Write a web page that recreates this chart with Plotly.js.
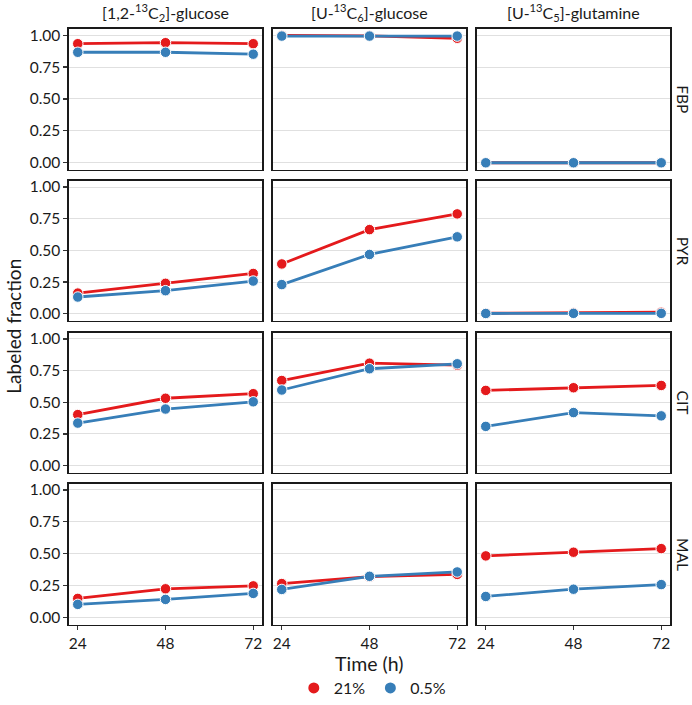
<!DOCTYPE html>
<html>
<head>
<meta charset="utf-8">
<script src="https://cdn.plot.ly/plotly-3.0.1.min.js"></script>
<style>html,body{margin:0;padding:0;background:#fff;}#chart{width:692px;height:705px;}</style>
</head>
<body>
<div id="chart"></div>
<script>
const times = [24, 48, 72];
const tracers = ['[1,2-<sup>13</sup>C<sub>2</sub>]-glucose', '[U-<sup>13</sup>C<sub>6</sub>]-glucose', '[U-<sup>13</sup>C<sub>5</sub>]-glutamine'];
const metabolites = ['FBP', 'PYR', 'CIT', 'MAL'];
const conditions = ['21%', '0.5%'];
const colors = ['#E41A1C', '#377EB8'];

// values per metabolite: [tracer][time]
const FBP_21 = [[0.933, 0.941, 0.933], [0.998, 0.995, 0.976], [0.0, 0.0, 0.0]];
const FBP_05 = [[0.866, 0.866, 0.851], [0.993, 0.993, 0.993], [0.0, 0.0, 0.0]];
const PYR_21 = [[0.163, 0.240, 0.318], [0.393, 0.664, 0.788], [0.004, 0.008, 0.012]];
const PYR_05 = [[0.132, 0.182, 0.258], [0.230, 0.468, 0.607], [0.002, 0.003, 0.003]];
const CIT_21 = [[0.403, 0.532, 0.568], [0.672, 0.809, 0.793], [0.594, 0.615, 0.633]];
const CIT_05 = [[0.336, 0.447, 0.504], [0.597, 0.765, 0.804], [0.310, 0.419, 0.393]];
const MAL_21 = [[0.150, 0.225, 0.248], [0.266, 0.320, 0.338], [0.483, 0.512, 0.540]];
const MAL_05 = [[0.103, 0.142, 0.189], [0.220, 0.323, 0.357], [0.165, 0.222, 0.258]];

const series = [[FBP_21, FBP_05], [PYR_21, PYR_05], [CIT_21, CIT_05], [MAL_21, MAL_05]];

const W = 692, H = 705;
const colPx = [[69, 262], [273, 466], [477, 670]];
const rowPx = [[29, 171], [182, 323], [335, 476], [487, 629]];
const FONT = 'Lato, "Open Sans", sans-serif';
const TXT = '#1a1a1a';

const traces = [];
const layout = {
  width: W, height: H,
  margin: {l: 0, r: 0, t: 0, b: 0},
  paper_bgcolor: '#fff', plot_bgcolor: '#fff',
  font: {family: FONT, size: 15, color: TXT},
  showlegend: true,
  legend: {orientation: 'h', x: 0.538, xanchor: 'center', y: (H - 693) / H, yanchor: 'middle',
           font: {family: FONT, size: 16, color: TXT}, itemwidth: 30},
  annotations: []
};

for (let r = 0; r < 4; r++) {
  for (let c = 0; c < 3; c++) {
    const k = r * 3 + c + 1;
    const xa = 'x' + k, ya = 'y' + k;
    for (let s = 0; s < 2; s++) {
      traces.push({
        x: times, y: series[r][s][c], xaxis: xa, yaxis: ya,
        mode: 'lines+markers', name: conditions[s], showlegend: false,
        line: {color: colors[s], width: 2.8},
        marker: {color: colors[s], size: 10.5, line: {color: '#fff', width: 1}},
        hoverinfo: 'skip'
      });
    }
    const xkey = 'xaxis' + (k === 1 ? '' : k);
    const ykey = 'yaxis' + (k === 1 ? '' : k);
    layout[xkey] = {
      domain: [colPx[c][0] / W, colPx[c][1] / W], anchor: ya,
      range: [21.6, 74.4], tickvals: times, ticktext: times.map(String),
      showticklabels: r === 3, ticks: r === 3 ? 'outside' : '', ticklen: 4, tickwidth: 1.2, tickcolor: '#333',
      showgrid: false, zeroline: false,
      showline: true, mirror: true, linecolor: TXT, linewidth: 1.6,
      tickfont: {family: FONT, size: 15.5, color: TXT}
    };
    layout[ykey] = {
      domain: [1 - rowPx[r][1] / H, 1 - rowPx[r][0] / H], anchor: xa,
      range: [-0.055, 1.05], tickvals: [0, 0.25, 0.5, 0.75, 1], ticktext: ['0.00', '0.25', '0.50', '0.75', '1.00'],
      showticklabels: c === 0, ticks: c === 0 ? 'outside' : '', ticklen: 4, tickwidth: 1.2, tickcolor: '#333',
      showgrid: true, gridcolor: '#e0e0e0', gridwidth: 1, zeroline: false,
      showline: true, mirror: true, linecolor: TXT, linewidth: 1.6,
      tickfont: {family: FONT, size: 15.5, color: TXT}
    };
  }
}

// legend-only entries (markers only)
for (let s = 0; s < 2; s++) {
  traces.push({x: [null], y: [null], mode: 'markers', name: conditions[s], showlegend: true,
    marker: {color: colors[s], size: 11}, xaxis: 'x', yaxis: 'y', hoverinfo: 'skip'});
}

// column strip labels
for (let c = 0; c < 3; c++) {
  layout.annotations.push({
    text: tracers[c], xref: 'paper', yref: 'paper',
    x: (colPx[c][0] + colPx[c][1]) / 2 / W, y: 1 - 13 / H,
    xanchor: 'center', yanchor: 'middle', showarrow: false,
    font: {family: FONT, size: 16, color: TXT}
  });
}
// row strip labels
for (let r = 0; r < 4; r++) {
  layout.annotations.push({
    text: metabolites[r], xref: 'paper', yref: 'paper',
    x: 683 / W, y: 1 - (rowPx[r][0] + rowPx[r][1]) / 2 / H,
    xanchor: 'center', yanchor: 'middle', showarrow: false, textangle: 90,
    font: {family: FONT, size: 15.5, color: TXT}
  });
}
// axis titles
layout.annotations.push({
  text: 'Labeled fraction', xref: 'paper', yref: 'paper',
  x: 14 / W, y: 1 - 329 / H, xanchor: 'center', yanchor: 'middle',
  showarrow: false, textangle: -90, font: {family: FONT, size: 19, color: TXT}
});
layout.annotations.push({
  text: 'Time (h)', xref: 'paper', yref: 'paper',
  x: 369 / W, y: 1 - 668 / H, xanchor: 'center', yanchor: 'middle',
  showarrow: false, font: {family: FONT, size: 19.5, color: TXT}
});

Plotly.newPlot('chart', traces, layout, {displayModeBar: false, staticPlot: true});
</script>
</body>
</html>
